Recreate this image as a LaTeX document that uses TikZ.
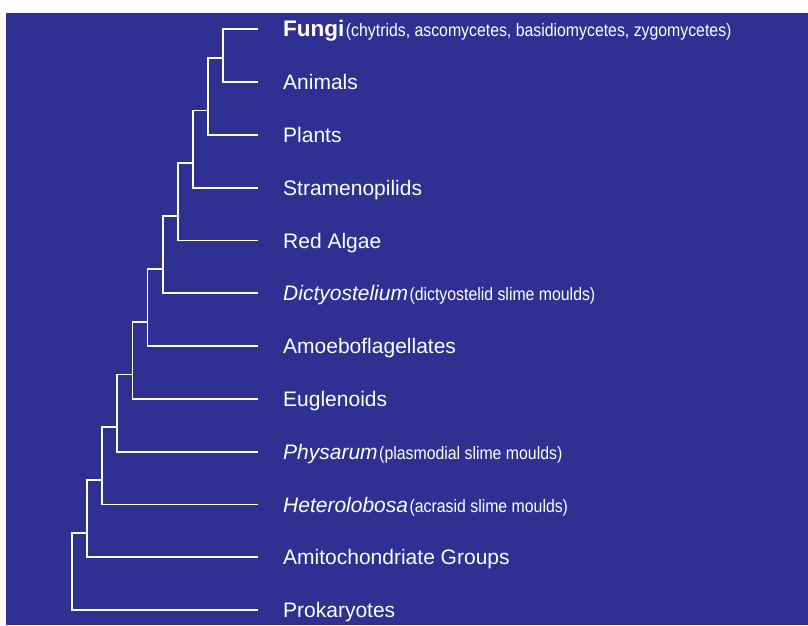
\documentclass[tikz,border=0pt]{standalone}
\usepackage{fontspec}
\setmainfont{Liberation Sans}
\newfontfamily\narrowfont[FakeStretch=0.88]{Liberation Sans}
\usetikzlibrary{calc}
\definecolor{treeblue}{RGB}{46,49,146}
\newcommand{\groupnote}[1]{\kern1.5pt{\narrowfont\fontsize{18}{20}\selectfont(#1)}}
\tikzset{
  branch/.style={white, line width=1.8pt},
  taxon/.style={anchor=base west, inner sep=0pt, text=white, font=\fontsize{21}{24}\selectfont}
}
\begin{document}
\begin{tikzpicture}[x=1pt, y=-1pt]
\useasboundingbox (0,0) rectangle (808,625);
\fill[treeblue] (6,13) rectangle (808,625);
% leaves and their names
\foreach \i/\txt in {0/{{\fontsize{22.5}{24}\selectfont\textbf{Fungi}}\groupnote{chytrids, ascomycetes, basidiomycetes, zygomycetes}},
  1/Animals, 2/Plants, 3/Stramenopilids, 4/Red Algae,
  5/{\textit{Dictyostelium}\groupnote{dictyostelid slime moulds}},
  6/Amoeboflagellates, 7/Euglenoids,
  8/{\textit{Physarum}\groupnote{plasmodial slime moulds}},
  9/{\textit{Heterolobosa}\groupnote{acrasid slime moulds}},
  10/Amitochondriate Groups, 11/Prokaryotes} {
\coordinate (e\i) at (258, 29.3+52.8*\i);
\node[taxon] (t\i) at ($(e\i)+(25,7.5)$) {\txt};
}
% branching points
\coordinate (n0) at (e0);
\foreach \i in {1,...,11} {
\pgfmathtruncatemacro\j{\i-1};
\coordinate (n\i) at (223-15.1*\j, 4.8+52.8*\i);
\draw[branch] (n\j) -| (e\i -| n\i) -- (e\i);
}
\end{tikzpicture}
\end{document}
